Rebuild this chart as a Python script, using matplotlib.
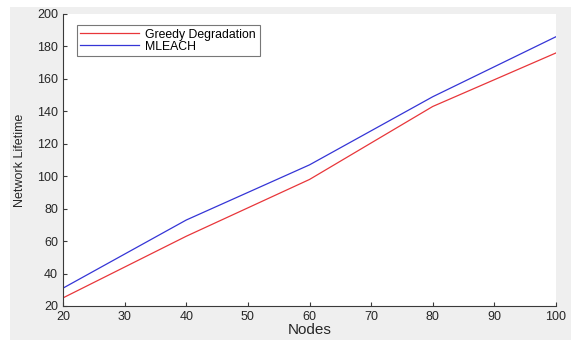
import matplotlib
matplotlib.use("Agg")
import matplotlib.pyplot as plt
from matplotlib.patches import Rectangle

nodes = [20, 40, 60, 80, 100]
greedy = [25, 63, 98, 143, 176]
mleach = [31, 73, 107, 149, 186]

plt.rcParams['font.family'] = ['Liberation Sans', 'DejaVu Sans']

fig = plt.figure(figsize=(5.71, 3.47), dpi=100, facecolor="white")
# matlab style grey figure panel, kept behind the axes
fig.add_artist(Rectangle((10/571, 7/347), 1 - 10/571, 1 - 14/347,
                         transform=fig.transFigure, facecolor="#efefef",
                         edgecolor="none", zorder=-10))

ax = fig.add_axes([63/571, 1 - 306/347, (556 - 63)/571, (306 - 14)/347])
ax.set_facecolor("white")

ax.plot(nodes, greedy, color="#e8363a", lw=0.9, label="Greedy Degradation")
ax.plot(nodes, mleach, color="#3535d6", lw=0.9, label="MLEACH")

ax.set_xlim(20, 100)
ax.set_ylim(20, 200)
ax.set_xticks(range(20, 101, 10))
ax.set_yticks(range(20, 201, 20))

for s in ["top", "right"]:
    ax.spines[s].set_visible(False)
for s in ["left", "bottom"]:
    ax.spines[s].set_color("#3a3a3a")
    ax.spines[s].set_linewidth(0.8)

ax.tick_params(direction="in", length=3, width=0.8, color="#3a3a3a",
               labelsize=9, labelcolor="#262626", pad=3.5)

ax.set_xlabel("Nodes", fontsize=11, color="#262626", labelpad=0)
ax.set_ylabel("Network Lifetime", fontsize=9, color="#262626", labelpad=8)

leg = ax.legend(loc="upper left", fontsize=8.8, frameon=True, fancybox=False,
                handlelength=4.8, borderpad=0.3, labelspacing=0.0,
                handletextpad=0.5, borderaxespad=0,
                bbox_to_anchor=(0.028, 0.962))
leg.get_frame().set_edgecolor("#555555")
leg.get_frame().set_linewidth(0.8)

fig.savefig("out.png", dpi=100, facecolor=fig.get_facecolor())
